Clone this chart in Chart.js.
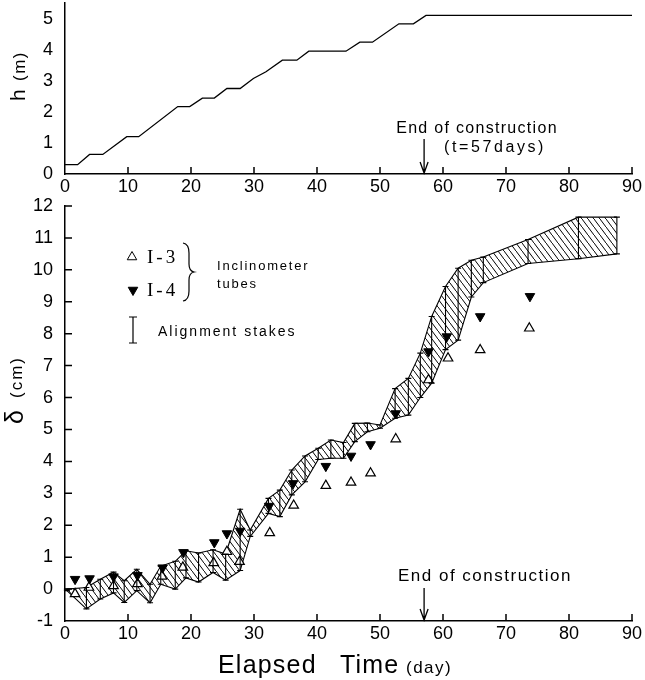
<!DOCTYPE html>
<html>
<head>
<meta charset="utf-8">
<script src="https://cdn.jsdelivr.net/npm/chart.js@4.4.1/dist/chart.umd.min.js"></script>
<style>
  html, body { margin: 0; padding: 0; background: #fff; }
  #wrap { position: relative; width: 645px; height: 680px; }
  #heightChart { position: absolute; left: 0; top: 0; }
  #defChart { position: absolute; left: 0; top: 195px; }
</style>
</head>
<body>
<div id="wrap">
  <canvas id="heightChart" width="645" height="200"></canvas>
  <canvas id="defChart" width="645" height="485"></canvas>
</div>
<script>
// embankment fill height h (m) vs elapsed time (day)
const fillDays   = [0, 2, 3.9, 6, 9.8, 11.7, 17.9, 19.8, 21.8, 23.7, 25.7, 27.8, 29.9, 31.9, 34.5, 36.8, 38.7, 44.6, 46.8, 48.8, 53, 55.3, 57.3, 90];
const fillHeight = [0.3, 0.3, 0.63, 0.63, 1.2, 1.2, 2.17, 2.17, 2.44, 2.44, 2.75, 2.75, 3.07, 3.29, 3.66, 3.66, 3.95, 3.95, 4.24, 4.24, 4.83, 4.83, 5.1, 5.1];

// alignment stakes: spread of lateral displacement (cm)
const stakeDays   = [0.3, 3.4, 5.6, 7.7, 9.4, 11.4, 13.5, 15.2, 17.5, 19.2, 21.2, 23.5, 25.5, 27.8, 29.4, 32.3, 34.1, 36.0, 38.1, 40.2, 42.2, 44.2, 46.0, 48.0, 50.0, 52.4, 54.5, 56.4, 58.2, 60.4, 62.4, 64.5, 66.4, 73.5, 81.5, 87.6];
const stakeTop    = [0.0, 0.05, 0.31, 0.53, 0.26, 0.62, 0.15, 0.72, 0.87, 1.2, 1.13, 1.23, 1.1, 2.5, 1.85, 2.84, 3.1, 3.73, 4.17, 4.41, 4.67, 4.59, 5.19, 5.2, 5.14, 6.28, 6.6, 7.39, 8.54, 9.48, 10.05, 10.3, 10.4, 10.95, 11.65, 11.65];
const stakeBottom = [-0.05, -0.62, -0.31, -0.12, -0.42, -0.05, -0.43, 0.15, 0.0, 0.35, 0.22, 0.52, 0.28, 0.58, 1.65, 2.37, 2.27, 2.95, 3.36, 4.06, 4.1, 4.1, 4.62, 4.93, 5.04, 5.35, 5.45, 6.0, 6.45, 7.5, 7.8, 9.15, 9.6, 10.2, 10.35, 10.5];

// inclinometer tubes
const i3Days = [1.6, 3.8, 7.7, 11.5, 15.4, 18.7, 23.6, 25.7, 27.7, 32.5, 36.3, 41.4, 45.4, 48.5, 52.5, 57.7, 60.8, 65.9, 73.7];
const i3Disp = [-0.15, 0.05, 0.1, 0.16, 0.4, 0.68, 0.82, 1.17, 0.86, 1.76, 2.62, 3.24, 3.34, 3.63, 4.7, 6.55, 7.23, 7.49, 8.17];
const i4Days = [1.6, 3.9, 7.7, 11.5, 15.5, 18.8, 23.7, 25.7, 27.8, 32.4, 36.2, 41.4, 45.4, 48.5, 52.5, 57.7, 60.6, 65.9, 73.8];
const i4Disp = [0.31, 0.33, 0.39, 0.43, 0.67, 1.15, 1.46, 1.74, 1.82, 2.6, 3.31, 3.85, 4.17, 4.53, 5.5, 7.44, 7.91, 8.54, 9.17];

const xTicks = [0, 10, 20, 30, 40, 50, 60, 70, 80, 90];
const hTicks = [0, 1, 2, 3, 4, 5];
const dTicks = [-1, 0, 1, 2, 3, 4, 5, 6, 7, 8, 9, 10, 11, 12];
const endDay = 57;

const SANS = '"Liberation Sans", Arial, sans-serif';
const SERIF = '"Liberation Serif", "DejaVu Serif", serif';

const pts = (xs, ys) => xs.map((x, i) => ({ x: x, y: ys[i] }));

function text(ctx, s, x, y, size, spacing, family, align) {
  ctx.save();
  ctx.font = size + 'px ' + (family || SANS);
  ctx.letterSpacing = (spacing || 0) + 'px';
  ctx.textAlign = align || 'left';
  ctx.textBaseline = 'alphabetic';
  ctx.fillStyle = '#000';
  ctx.fillText(s, x, y);
  ctx.restore();
}

function arrowDown(ctx, x, y0, y1) {
  ctx.save();
  ctx.strokeStyle = '#000';
  ctx.lineWidth = 1.3;
  ctx.beginPath();
  ctx.moveTo(x, y0); ctx.lineTo(x, y1);
  ctx.moveTo(x - 4, y1 - 11); ctx.lineTo(x, y1); ctx.lineTo(x + 4, y1 - 11);
  ctx.stroke();
  ctx.restore();
}

// hatch "\\\" used inside the stake band
function hatch() {
  const c = document.createElement('canvas');
  c.width = 6; c.height = 8;
  const g = c.getContext('2d');
  g.strokeStyle = '#000';
  g.lineWidth = 1;
  g.beginPath();
  g.moveTo(-1, -1.33); g.lineTo(7, 9.33);
  g.stroke();
  return g.createPattern(c, 'repeat');
}

function xAxis(h) {
  return {
    type: 'linear', min: 0, max: 90,
    afterBuildTicks: s => { s.ticks = xTicks.map(v => ({ value: v })); },
    afterFit: s => { s.height = h; s.paddingLeft = 0; s.paddingRight = 0; },
    grid: { display: false, drawTicks: false },
    border: { display: true, color: '#000', width: 1.5 },
    ticks: { color: '#000', font: { family: SANS, size: 18 }, padding: 2, maxRotation: 0, autoSkip: false }
  };
}

function yAxis(min, max, list) {
  return {
    type: 'linear', min: min, max: max,
    afterBuildTicks: s => { s.ticks = list.map(v => ({ value: v })); },
    afterFit: s => { s.width = 65; s.paddingTop = 0; s.paddingBottom = 0; },
    grid: { display: false, drawTicks: false },
    border: { display: true, color: '#000', width: 1.5 },
    ticks: { color: '#000', font: { family: SANS, size: 18 }, padding: 12, autoSkip: false }
  };
}

// short inward tick marks on the axes
function tickMarks(chart, yList) {
  const ctx = chart.ctx, xs = chart.scales.x, ys = chart.scales.y;
  const a = chart.chartArea;
  ctx.save();
  ctx.strokeStyle = '#000';
  ctx.lineWidth = 1.5;
  ctx.beginPath();
  xTicks.slice(1).forEach(v => {
    const px = xs.getPixelForValue(v);
    ctx.moveTo(px, a.bottom); ctx.lineTo(px, a.bottom - 7);
  });
  (yList || []).forEach(v => {
    const py = ys.getPixelForValue(v);
    ctx.moveTo(a.left, py); ctx.lineTo(a.left + 7, py);
  });
  ctx.stroke();
  ctx.restore();
}

new Chart(document.getElementById('heightChart'), {
  type: 'line',
  data: {
    datasets: [{
      data: pts(fillDays, fillHeight),
      borderColor: '#000', borderWidth: 1.3, pointRadius: 0, tension: 0, fill: false
    }]
  },
  options: {
    responsive: false, animation: false, devicePixelRatio: 1,
    layout: { padding: { left: 0, right: 13, top: 3, bottom: 0 } },
    plugins: { legend: { display: false }, tooltip: { enabled: false } },
    scales: { x: xAxis(26), y: yAxis(0, 5.5, hTicks) }
  },
  plugins: [{
    id: 'heightDecor',
    afterDraw(chart) {
      const ctx = chart.ctx;
      tickMarks(chart, []);
      const ex = chart.scales.x.getPixelForValue(endDay);
      text(ctx, 'End of construction', 477, 133, 16, 1.3, SANS, 'center');
      text(ctx, '(t=57days)', 495, 152, 16, 2.6, SANS, 'center');
      arrowDown(ctx, ex, 139, chart.chartArea.bottom - 1);
      ctx.save();
      ctx.translate(25, 101);
      ctx.rotate(-Math.PI / 2);
      text(ctx, 'h', 0, 0, 21, 0, SANS);
      text(ctx, '(m)', 20, 0, 17, 1.5, SANS);
      ctx.restore();
    }
  }]
});

new Chart(document.getElementById('defChart'), {
  type: 'line',
  data: {
    datasets: [
      {
        label: 'I-4', data: pts(i4Days, i4Disp), showLine: false,
        pointStyle: 'triangle', rotation: 180, pointRadius: 5.5,
        pointBackgroundColor: '#000', pointBorderColor: '#000', pointBorderWidth: 1
      },
      {
        label: 'I-3', data: pts(i3Days, i3Disp), showLine: false,
        pointStyle: 'triangle', pointRadius: 5.5,
        pointBackgroundColor: '#fff', pointBorderColor: '#000', pointBorderWidth: 1.2
      },
      {
        label: 'stake top', data: pts(stakeDays, stakeTop),
        borderColor: '#000', borderWidth: 1.1, pointRadius: 0, tension: 0, fill: false
      },
      {
        label: 'stake bottom', data: pts(stakeDays, stakeBottom),
        borderColor: '#000', borderWidth: 1.1, pointRadius: 0, tension: 0,
        fill: '-1', backgroundColor: hatch()
      }
    ]
  },
  options: {
    responsive: false, animation: false, devicePixelRatio: 1,
    layout: { padding: { left: 0, right: 13, top: 11, bottom: 0 } },
    plugins: { legend: { display: false }, tooltip: { enabled: false } },
    scales: { x: xAxis(59), y: yAxis(-1, 12, dTicks) }
  },
  plugins: [{
    id: 'stakeBars',
    afterDatasetsDraw(chart) {
      // vertical range bars of the alignment stakes
      const ctx = chart.ctx, xs = chart.scales.x, ys = chart.scales.y;
      ctx.save();
      ctx.strokeStyle = '#000';
      ctx.lineWidth = 1.1;
      ctx.beginPath();
      stakeDays.forEach((d, i) => {
        const px = xs.getPixelForValue(d);
        const t = ys.getPixelForValue(stakeTop[i]);
        const b = ys.getPixelForValue(stakeBottom[i]);
        ctx.moveTo(px, t); ctx.lineTo(px, b);
        ctx.moveTo(px - 3, t); ctx.lineTo(px + 3, t);
        ctx.moveTo(px - 3, b); ctx.lineTo(px + 3, b);
      });
      ctx.stroke();
      ctx.restore();
    },
    afterDraw(chart) {
      const ctx = chart.ctx;
      tickMarks(chart, dTicks.slice(1));

      // legend
      const H = Chart.helpers;
      ctx.save();
      ctx.strokeStyle = '#000';
      ctx.fillStyle = '#fff';
      H.drawPoint(ctx, { pointStyle: 'triangle', radius: 5.5, rotation: 0, borderWidth: 1.2 }, 132, 62);
      ctx.fillStyle = '#000';
      H.drawPoint(ctx, { pointStyle: 'triangle', radius: 5.5, rotation: 180, borderWidth: 1 }, 133, 95);
      ctx.restore();
      text(ctx, 'I-3', 147, 68, 19, 3, SERIF);
      text(ctx, 'I-4', 147, 101, 19, 3, SERIF);

      ctx.save();
      ctx.strokeStyle = '#000';
      ctx.lineWidth = 1.2;
      ctx.beginPath();
      ctx.moveTo(183, 48);
      ctx.quadraticCurveTo(189, 49, 189, 58);
      ctx.lineTo(189, 69);
      ctx.quadraticCurveTo(189, 76, 194, 77);
      ctx.quadraticCurveTo(189, 78, 189, 85);
      ctx.lineTo(189, 96);
      ctx.quadraticCurveTo(189, 105, 183, 106);
      ctx.stroke();

      ctx.beginPath();
      ctx.moveTo(133, 122); ctx.lineTo(133, 148);
      ctx.moveTo(129, 122); ctx.lineTo(137, 122);
      ctx.moveTo(129, 148); ctx.lineTo(137, 148);
      ctx.stroke();
      ctx.restore();

      text(ctx, 'Inclinometer', 217, 75, 13, 1.8);
      text(ctx, 'tubes', 217, 93, 13, 1.8);
      text(ctx, 'Alignment stakes', 158, 141, 14, 2);

      // end of construction marker
      const ex = chart.scales.x.getPixelForValue(endDay);
      text(ctx, 'End of construction', 485, 386, 17, 1.5, SANS, 'center');
      arrowDown(ctx, ex, 393, chart.chartArea.bottom - 1);

      // axis titles
      text(ctx, 'Elapsed', 218, 478, 25, 1.2);
      text(ctx, 'Time', 340, 478, 25, 1.2);
      text(ctx, '(day)', 406, 478, 17, 1.5);

      ctx.save();
      ctx.translate(23, 229);
      ctx.rotate(-Math.PI / 2);
      text(ctx, 'δ', 0, 0, 25, 0, SANS);
      text(ctx, '(cm)', 26, -1, 17, 2, SANS);
      ctx.restore();
    }
  }]
});
</script>
</body>
</html>
